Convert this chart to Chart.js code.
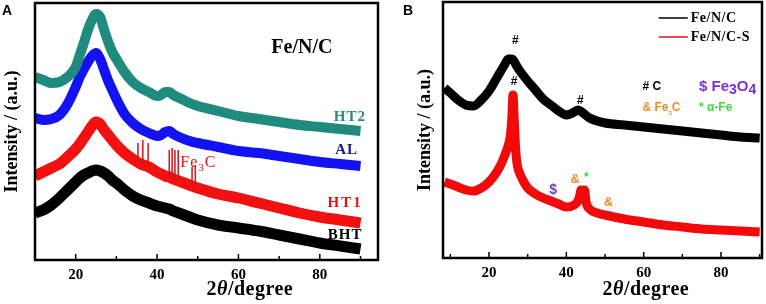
<!DOCTYPE html>
<html>
<head>
<meta charset="utf-8">
<script src="https://cdn.jsdelivr.net/npm/chart.js@4.4.1/dist/chart.umd.min.js"></script>
<style>
  html, body { margin: 0; padding: 0; background: #fff; width: 766px; height: 304px; overflow: hidden; }
  .panel { position: absolute; top: 0; height: 304px; }
  #pa { left: 0; width: 384px; }
  #pb { left: 384px; width: 382px; }
</style>
</head>
<body>
<div class="panel" id="pa"><canvas id="ca"></canvas></div>
<div class="panel" id="pb"><canvas id="cb"></canvas></div>
<script>
// Panel A — Fe/N/C samples (2θ in degrees, intensity a.u.)
const anglesA = [10,12,14,16,18,20,21,22,23,24,25,26,27,28,29,30,32,34,36,38,40,41,42,43,44,46,48,50,55,60,65,70,75,80,85,90];
const ht2 = [183,180,177,178,183,193,205,217,230,240,246,243,230,218,208,201,188,178,172,168,164,165,168,168,165,161,157,154,149,144,141,138,135,133,131,129];
const al  = [142,140,141,145,156,173,183,191,198,204,207,201,190,179,170,161,146,137,131,127,124,125,128,129,126,122,119,117,113,109,107,104,101,98,96,94];
const ht1 = [84,88,92,96,103,111,116,122,128,134,138,136,130,125,120,115,107,101,96,93,88,86,84,83,81,78,75,72,66,62,57,52,47,43,40,37];
const bht = [47,50,55,62,70,78,82,85,87,89,90,89,87,84,80,77,70,64,60,57,54,53,52,51,49,46,43,40,35,32,29,25,21,17,14,11];

// Fe3C reflections in HT1 (sharp lines)
const fe3cAngles = [35.3,36.5,37.8,43.0,43.7,44.4,45.2,48.6,49.4];
const fe3cBases  = [98,95,93,83,82,80,79,74,73];
const fe3cTops   = [117,120,117,110,112,110,110,93,95];

// Panel B — Fe/N/C vs Fe/N/C-S
const anglesFeNC = [8.5,10,12,14,16,18,20,22,24,25,26,27,28,30,32,34,36,38,40,41,42,43,44,46,48,50,55,60,65,70,75,80,85,90];
const feNC = [170,165,158,153,152,158,167,180,193,199,199,193,187,177,168,159,153,147,143,144,146,148,146,140,137,135,133,131,129,127,125,123,121,120];
const anglesFeNCS = [8.5,10,12,14,16,18,20,22,23,24,25,25.5,25.9,26.2,26.5,26.9,27.3,28,29,30,32,34,36,38,40,42,43,43.5,43.8,44.2,44.7,45.1,46,48,50,55,60,65,70,75,80,85,90];
const feNCS = [76,74,71,68,67,70,76,86,93,102,113,122,140,163,140,108,93,84,76,70,64,60,57,54,51,53,57,63,68,62,68,56,49,45,43,39,36,33,31,29,28,27,26];

const xTicks = [20, 40, 60, 80];
const xMinorA = [30, 50, 70, 90];
const xMinorB = [10, 30, 50, 70, 90];

const SERIF = "'Liberation Serif', 'Times New Roman', serif";
const SANS = "'Liberation Sans', Arial, sans-serif";

const pts = (xs, ys) => xs.map((x, i) => ({ x, y: ys[i] }));

function drawRich(ctx, parts, x, y, o) {
  const size = o.size || 14;
  const fontFor = p => `${p.it ? 'italic ' : ''}${o.weight || 'bold'} ${p.sub ? Math.round(size * (o.subScale || 0.7)) : size}px ${o.family || SERIF}`;
  ctx.letterSpacing = o.spacing || '0px';
  let w = 0;
  parts.forEach(p => { ctx.font = fontFor(p); w += ctx.measureText(p.t).width; });
  let cx = o.align === 'center' ? x - w / 2 : o.align === 'right' ? x - w : x;
  ctx.fillStyle = o.color || '#000';
  ctx.textAlign = 'left';
  ctx.textBaseline = 'middle';
  parts.forEach(p => {
    ctx.font = fontFor(p);
    ctx.fillText(p.t, cx, y + (p.sub ? size * (o.subDrop || 0.3) : 0));
    cx += ctx.measureText(p.t).width;
  });
  ctx.letterSpacing = '0px';
}

// frame box, inward ticks, panel letter, axis title and annotations
const decorPlugin = {
  id: 'decor',
  afterDatasetsDraw(chart, args, opts) {
    const { ctx, chartArea: a, scales: { x, y } } = chart;
    ctx.save();
    ctx.strokeStyle = '#000';
    ctx.lineWidth = 2.5;
    ctx.strokeRect(a.left, a.top, a.right - a.left, a.bottom - a.top);
    ctx.lineWidth = 1.5;
    const tick = (v, len) => {
      const px = x.getPixelForValue(v);
      ctx.beginPath(); ctx.moveTo(px, a.bottom); ctx.lineTo(px, a.bottom - len); ctx.stroke();
    };
    xTicks.forEach(v => tick(v, 6));
    (opts.minor || []).forEach(v => tick(v, 4));

    drawRich(ctx, [{ t: opts.letter }], opts.letterX, 11, { size: 14, family: SANS });
    drawRich(ctx, [{ t: '2' }, { t: 'θ', it: true }, { t: '/degree' }], (a.left + a.right) / 2, 290,
      { size: 20, spacing: '0.5px' });

    (opts.notes || []).forEach(n => {
      drawRich(ctx, n.parts, x.getPixelForValue(n.x), y.getPixelForValue(n.y), n);
    });

    (opts.legend || []).forEach(l => {
      const py = y.getPixelForValue(l.y);
      ctx.strokeStyle = l.color; ctx.lineWidth = 1.5;
      ctx.beginPath(); ctx.moveTo(x.getPixelForValue(l.x0), py); ctx.lineTo(x.getPixelForValue(l.x1), py); ctx.stroke();
      drawRich(ctx, [{ t: l.label }], x.getPixelForValue(l.x1) + 3, py, { size: 14, spacing: '0.5px' });
    });
    ctx.restore();
  }
};

function makeOptions(cfg) {
  return {
    responsive: true,
    maintainAspectRatio: false,
    animation: false,
    layout: { padding: { left: 0, top: cfg.top, right: cfg.right, bottom: 0 } },
    elements: { point: { radius: 0 }, line: { cubicInterpolationMode: 'monotone', borderCapStyle: 'butt', borderJoinStyle: 'round' } },
    plugins: { legend: { display: false }, tooltip: { enabled: false }, decor: cfg.decor },
    scales: {
      x: {
        type: 'linear', min: cfg.xMin, max: cfg.xMax,
        grid: { display: false, drawTicks: false },
        border: { display: false },
        afterBuildTicks: s => { s.ticks = xTicks.map(v => ({ value: v })); },
        afterFit: s => { s.height = cfg.xH; },
        ticks: { color: '#000', padding: 6, font: { family: SERIF, size: 15, weight: 'bold' } }
      },
      y: {
        min: 0, max: cfg.yMax,
        grid: { display: false, drawTicks: false },
        border: { display: false },
        ticks: { display: false },
        afterFit: s => { s.width = cfg.yW; },
        title: {
          display: true, text: 'Intensity / (a.u.)', color: '#000',
          padding: { top: cfg.titlePad, bottom: 0 },
          font: { family: SERIF, size: 18, weight: 'bold' }
        }
      }
    }
  };
}

new Chart(document.getElementById('ca'), {
  type: 'line',
  plugins: [decorPlugin],
  data: {
    datasets: [
      { label: 'Fe3C', data: fe3cAngles.flatMap((a, i) => [{ x: a, y: fe3cBases[i] }, { x: a, y: fe3cTops[i] }, { x: a, y: null }]),
        borderColor: '#d0141a', borderWidth: 1.5, spanGaps: false, cubicInterpolationMode: 'default', tension: 0 },
      { label: 'HT2', data: pts(anglesA, ht2), borderColor: '#1f8a7e', borderWidth: 10 },
      { label: 'AL',  data: pts(anglesA, al),  borderColor: '#1212f2', borderWidth: 10 },
      { label: 'HT1', data: pts(anglesA, ht1), borderColor: '#f21010', borderWidth: 11 },
      { label: 'BHT', data: pts(anglesA, bht), borderColor: '#000000', borderWidth: 11 }
    ]
  },
  options: makeOptions({
    top: 3, right: 6, xMin: 10, xMax: 94.3, yMax: 257, xH: 44, yW: 35, titlePad: 2,
    decor: {
      letter: 'A', letterX: 2, minor: xMinorA,
      notes: [
        { parts: [{ t: 'Fe/N/C' }], x: 75.6, y: 212, size: 20, align: 'center' },
        { parts: [{ t: 'HT2' }], x: 87.4, y: 143, size: 15, align: 'center', color: '#2a8a7c', spacing: '1px' },
        { parts: [{ t: 'AL' }], x: 86.6, y: 110, size: 15, align: 'center', color: '#1c1c86', spacing: '1px' },
        { parts: [{ t: 'HT1' }], x: 86.2, y: 57, size: 15, align: 'center', color: '#e41212', spacing: '2px' },
        { parts: [{ t: 'BHT' }], x: 86.2, y: 25, size: 15, align: 'center', color: '#000', spacing: '1px' },
        { parts: [{ t: 'Fe' }, { t: '3', sub: true }, { t: 'C' }], x: 45.7, y: 97, size: 16, weight: 'normal',
          color: '#e41212', spacing: '1px' }
      ]
    }
  })
});

new Chart(document.getElementById('cb'), {
  type: 'line',
  plugins: [decorPlugin],
  data: {
    datasets: [
      { label: 'Fe/N/C',   data: pts(anglesFeNC, feNC),   borderColor: '#000000', borderWidth: 9 },
      { label: 'Fe/N/C-S', data: pts(anglesFeNCS, feNCS), borderColor: '#f20a0a', borderWidth: 9 }
    ]
  },
  options: makeOptions({
    top: 2, right: 4, xMin: 8.1, xMax: 90.6, yMax: 256, xH: 46, yW: 59, titlePad: 31,
    decor: {
      letter: 'B', letterX: 19, minor: xMinorB,
      legend: [
        { label: 'Fe/N/C', x0: 63.9, x1: 71.4, y: 240, color: '#000' },
        { label: 'Fe/N/C-S', x0: 63.9, x1: 71.4, y: 221, color: '#e01010' }
      ],
      notes: [
        { parts: [{ t: '#' }], x: 26.8, y: 217, size: 12, family: SANS, align: 'center' },
        { parts: [{ t: '#' }], x: 26.5, y: 176, size: 12, family: SANS, align: 'center' },
        { parts: [{ t: '#' }], x: 43.6, y: 157, size: 12, family: SANS, align: 'center' },
        { parts: [{ t: '# C' }], x: 59.7, y: 171, size: 12, family: SANS },
        { parts: [{ t: '$ Fe' }, { t: '3', sub: true }, { t: 'O' }, { t: '4', sub: true }], x: 74.3, y: 171, size: 15,
          family: SANS, color: '#7b30dc', subScale: 0.9, subDrop: 0.2 },
        { parts: [{ t: '& Fe' }, { t: '3', sub: true }, { t: 'C' }], x: 59.7, y: 150, size: 12, family: SANS,
          color: '#f08c28', subScale: 0.5, subDrop: 0.45 },
        { parts: [{ t: '* α-Fe' }], x: 74.3, y: 150, size: 12, family: SANS, color: '#3cdc3c' },
        { parts: [{ t: '$' }], x: 36.6, y: 68, size: 14, family: SANS, color: '#7b30dc', align: 'center' },
        { parts: [{ t: '&' }], x: 42.3, y: 79, size: 13, family: SANS, color: '#f08c28', align: 'center' },
        { parts: [{ t: '*' }], x: 45.2, y: 80, size: 12, family: SANS, color: '#3cdc3c', align: 'center' },
        { parts: [{ t: '&' }], x: 50.9, y: 56, size: 13, family: SANS, color: '#f08c28', align: 'center' }
      ]
    }
  })
});
</script>
</body>
</html>
